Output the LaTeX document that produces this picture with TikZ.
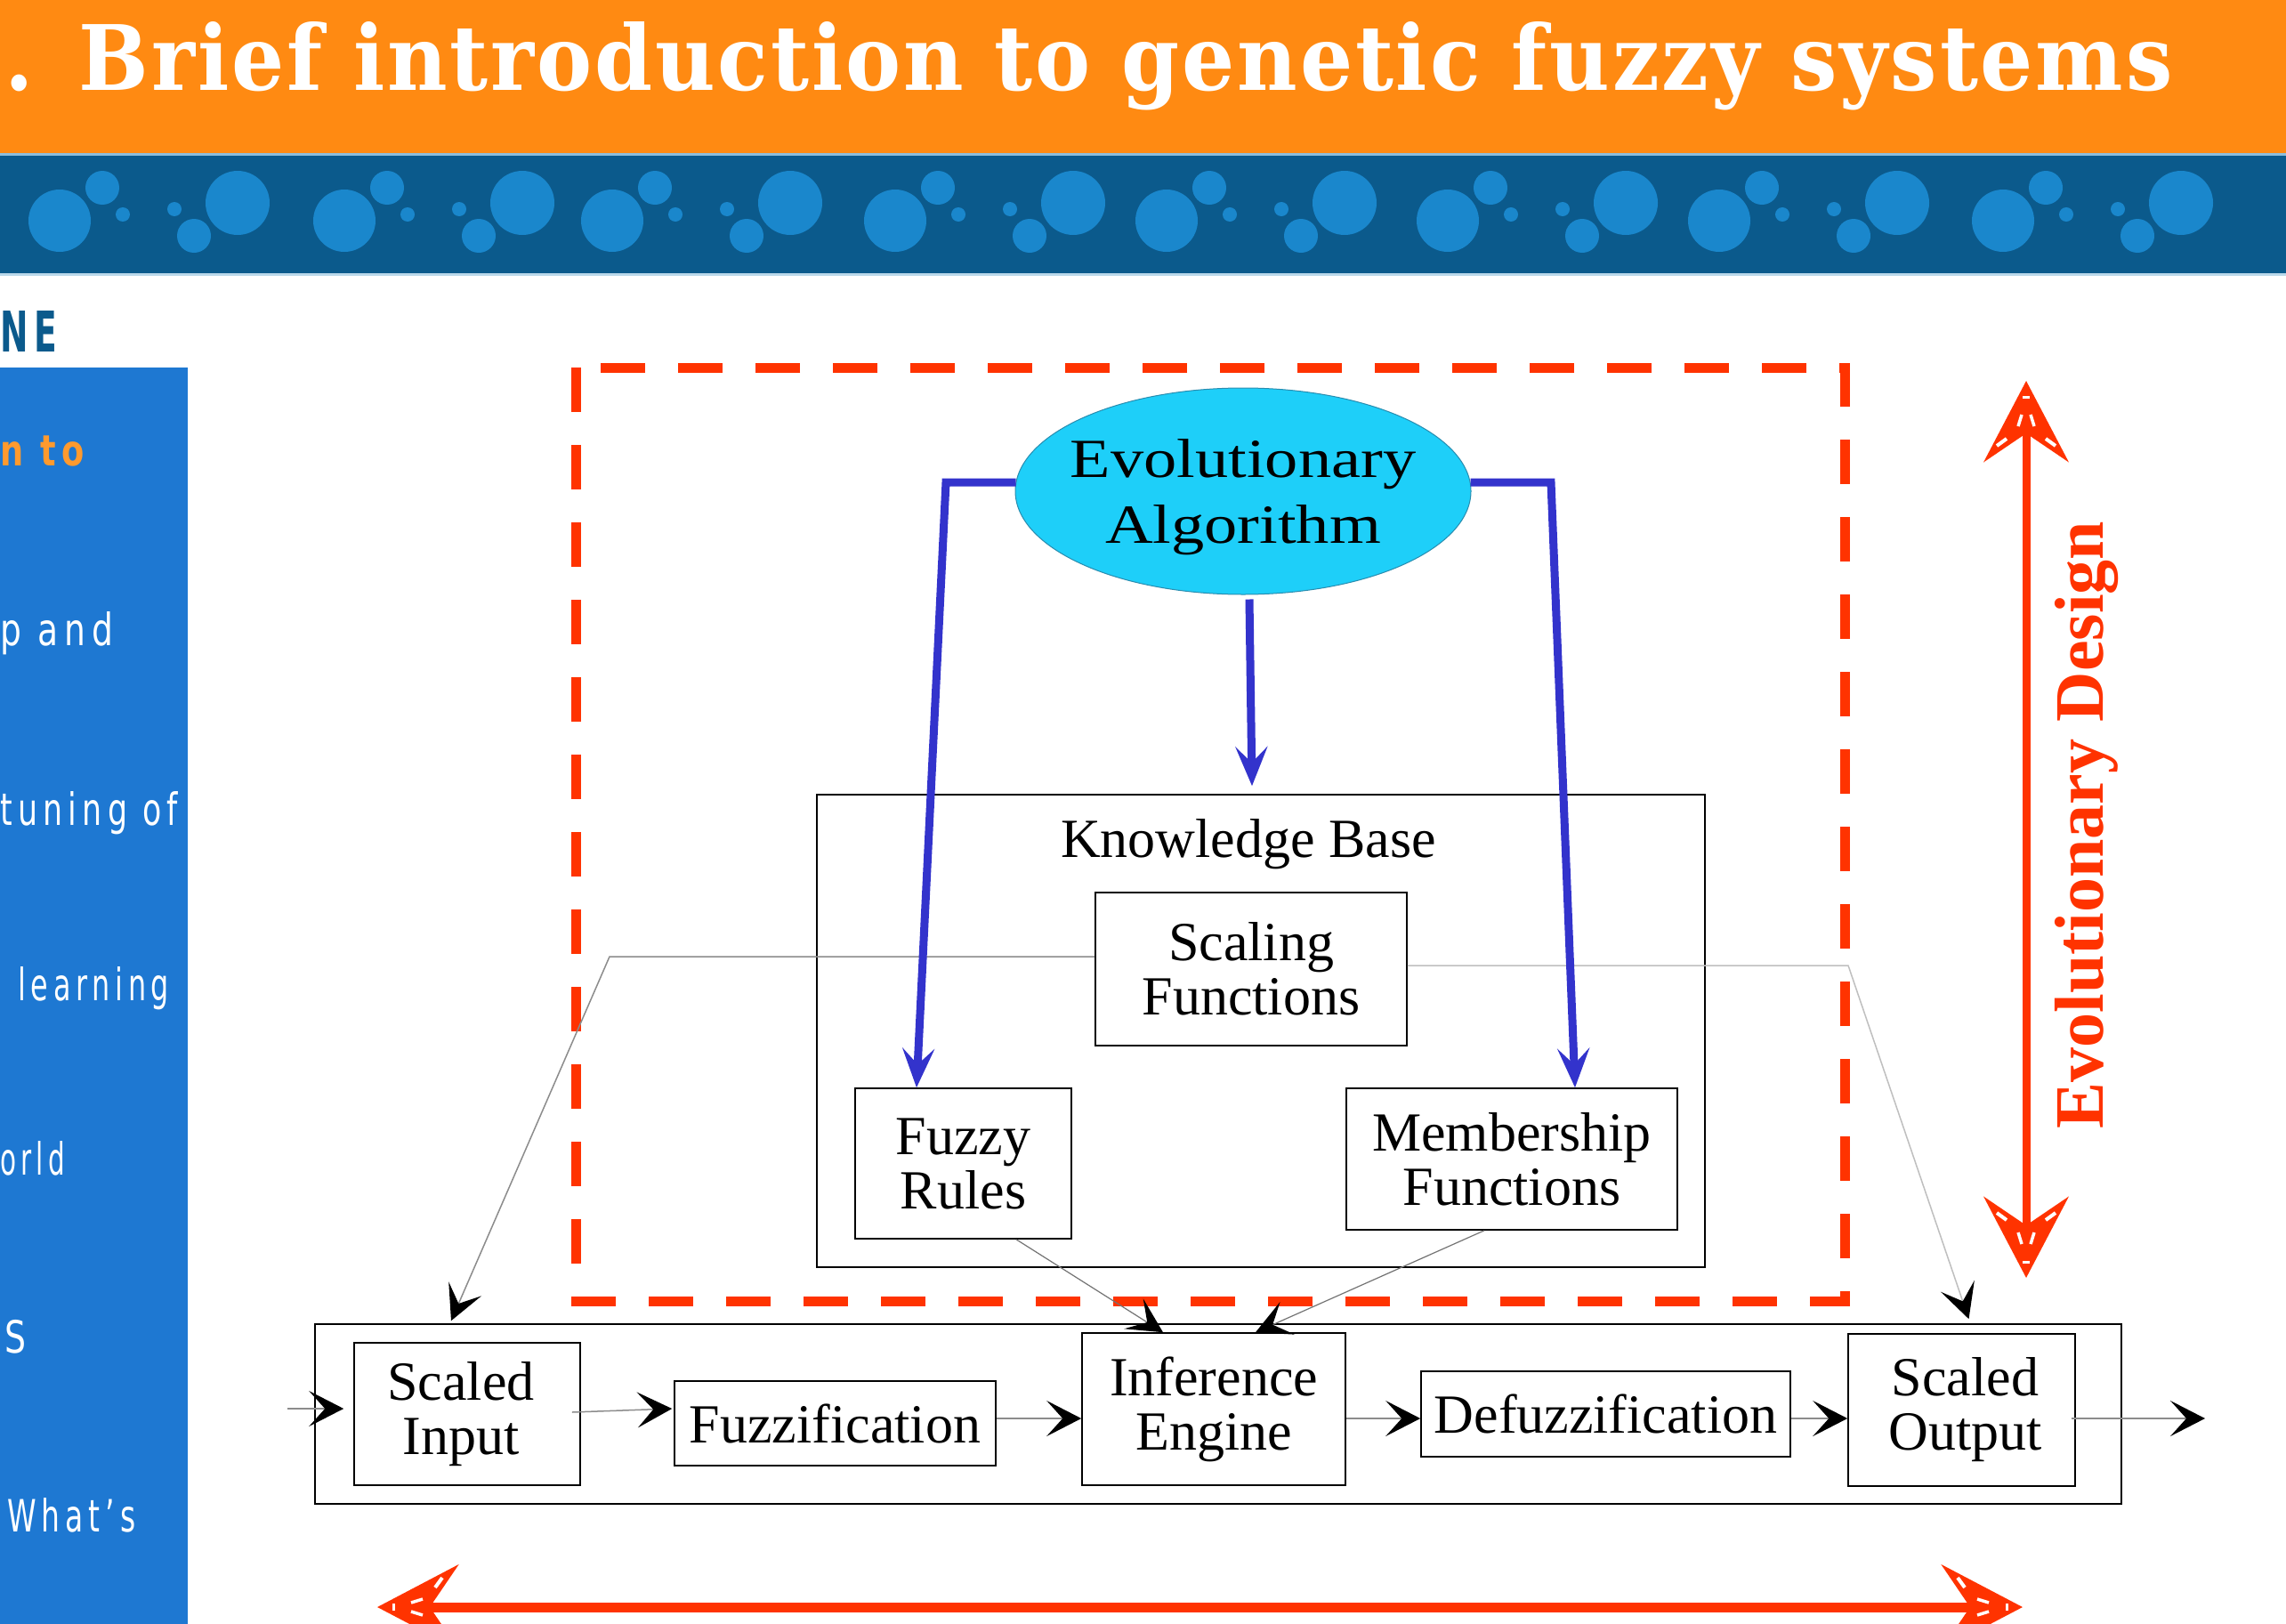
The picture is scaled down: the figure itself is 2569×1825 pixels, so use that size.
\documentclass[tikz,border=0pt]{standalone}
\usepackage{fontspec}
\usepackage{graphicx}
\setmainfont{Liberation Serif}
\newfontfamily\eafont[FakeStretch=1.2]{Liberation Serif}
\newfontfamily\titlefont[LetterSpace=3]{DejaVu Serif}
\newfontfamily\sidefont[LetterSpace=18]{DejaVu Sans}
\usetikzlibrary{arrows.meta,shapes.geometric,calc}
\definecolor{hdrorange}{RGB}{255,138,18}
\definecolor{hdrblue}{RGB}{11,90,140}
\definecolor{hdrline}{RGB}{140,190,220}
\definecolor{bubble}{RGB}{26,135,204}
\definecolor{sidebar}{RGB}{30,120,210}
\definecolor{sideorange}{RGB}{255,154,46}
\definecolor{evored}{RGB}{255,51,0}
\definecolor{eablue}{RGB}{51,51,204}
\definecolor{eafill}{RGB}{30,207,249}
\definecolor{eaedge}{RGB}{40,140,175}
\begin{document}
\begin{tikzpicture}[x=1pt,y=-1pt,
  box/.style={draw=black, line width=1.6pt, inner sep=0pt, align=center, font=\fontsize{62}{61}\selectfont},
  flow/.style={draw=black!45, line width=1.5pt, -{Stealth[black,length=39pt,width=40pt,inset=18pt]}},
  flowlight/.style={draw=black!25, line width=1.5pt, -{Stealth[black,length=39pt,width=40pt,inset=18pt]}},
  eaarrow/.style={draw=eablue, line width=9pt, line join=miter, -{Stealth[length=44pt,width=36pt,inset=18pt]}},
  redarrow/.style={draw=evored, {Stealth[length=91pt,width=95pt,inset=32pt]}-{Stealth[length=91pt,width=95pt,inset=32pt]}},
  dashbox/.style={draw=evored, line width=11pt, dash pattern=on 50pt off 37pt},
  sidetext/.style={anchor=base west, inner sep=0pt, text=white},
  redslits/.pic={
    \draw[white, line width=3pt] (-4,18) -- (4,18);
    \draw[white, line width=3.5pt] (-9,51) -- (-5,38) (9,51) -- (5,38);
    \draw[white, line width=4pt] (-33,73) -- (-22,65) (33,73) -- (22,65);
  },
]
\clip (0,0) rectangle (2569,1825);
\fill[white] (0,0) rectangle (2569,1825);
% header
\fill[hdrorange] (0,0) rectangle (2569,172);
\fill[hdrline] (0,172) rectangle (2569,175);
\fill[hdrblue] (0,175) rectangle (2569,307);
\fill[hdrline!60] (0,307) rectangle (2569,310);
\foreach \a in {67,387,688,1006,1311,1627,1932,2251}{
  \fill[bubble] (\a,248) circle[radius=35];
  \fill[bubble] (\a+48,211) circle[radius=19];
  \fill[bubble] (\a+71,241) circle[radius=8];
  \fill[bubble] (\a+129,235) circle[radius=8];
  \fill[bubble] (\a+151,265) circle[radius=19];
  \fill[bubble] (\a+200,228) circle[radius=36];
}
\node[anchor=base west, inner sep=0pt, text=white] (title) at (5,102)
  {\resizebox{2436pt}{77pt}{\titlefont\bfseries .\hspace{0.55em}Brief introduction to genetic fuzzy systems}};
% sidebar
\node[anchor=base west, inner sep=0pt, text=hdrblue] (outl) at (0,395)
  {\resizebox{64pt}{46pt}{\sidefont\bfseries NE}};
\fill[sidebar] (0,413) rectangle (211,1825);
\node[sidetext, text=sideorange] (s1) at (0,523) {\resizebox{95pt}{\height}{\sidefont\bfseries\fontsize{48}{48}\selectfont n to}};
\node[sidetext] (s2) at (0,725) {\resizebox{127pt}{\height}{\sidefont\fontsize{50}{50}\selectfont p and}};
\node[sidetext] (s3) at (0,927) {\resizebox{200pt}{\height}{\sidefont\fontsize{50}{50}\selectfont tuning of}};
\node[sidetext] (s4) at (20,1124) {\resizebox{170pt}{\height}{\sidefont\fontsize{50}{50}\selectfont learning}};
\node[sidetext] (s5) at (0,1320) {\resizebox{73pt}{\height}{\sidefont\fontsize{50}{50}\selectfont orld}};
\node[sidetext] (s6) at (5,1520) {\resizebox{24pt}{\height}{\sidefont\fontsize{50}{50}\selectfont S}};
\node[sidetext] (s7) at (8,1721) {\resizebox{144pt}{\height}{\sidefont\fontsize{50}{50}\selectfont What’s}};
% red dashed frame
\draw[dashbox] (647,413) rectangle (2073,1462);
% boxes
\node[box, minimum width=2030pt, minimum height=202pt] (OB) at (1369,1589) {};
\node[box, minimum width=998pt, minimum height=531pt] (KB) at (1417,1158.5) {};
\node[anchor=base, inner sep=0pt, font=\fontsize{62}{62}\selectfont] (KBL) at (1403,963) {Knowledge Base};
\node[box, minimum width=350pt, minimum height=172pt] (SF) at (1406,1089) {Scaling\\Functions};
\node[box, minimum width=243pt, minimum height=169pt] (FR) at (1082.5,1307.5) {Fuzzy\\Rules};
\node[box, minimum width=372pt, minimum height=159pt] (MF) at (1699,1302.5) {Membership\\Functions};
\node[box, minimum width=254pt, minimum height=160pt] (SI) at (525,1589) {\hspace*{-14pt}Scaled\\\hspace*{-14pt}Input};
\node[box, minimum width=361pt, minimum height=95pt] (FZ) at (938.5,1599.5) {Fuzzification};
\node[box, minimum width=296pt, minimum height=171pt] (IE) at (1364,1583.5) {Inference\\Engine};
\node[box, minimum width=415pt, minimum height=96pt] (DF) at (1804.5,1589) {Defuzzification};
\node[box, minimum width=255pt, minimum height=171pt] (SO) at (2204.5,1584.5) {\hspace*{8pt}Scaled\\\hspace*{8pt}Output};
\node[ellipse, fill=eafill, draw=eaedge, line width=1pt, minimum width=512pt, minimum height=232pt,
      inner sep=0pt] (EA) at (1397,552) {};
\node[inner sep=0pt, align=center, font=\eafont\fontsize{62}{74}\selectfont] (EAT) at ($(EA.center)+(0,7)$) {Evolutionary\\Algorithm};
% flow arrows
\coordinate (inS) at (323,1583);
\draw[flow, shorten >=11pt] (inS) -- (inS -| SI.west);
\draw[flow] ($(SI.east)+(-10,-2)$) -- ($(FZ.west)+(-2,-16.5)$);
\draw[flow] ($(FZ.east)+(0,-5.5)$) -- ($(IE.west)+(0,10.5)$);
\draw[flow] ($(IE.east)+(0,10.5)$) -- ($(DF.west)+(0,5)$);
\draw[flow] ($(DF.east)+(0,5)$) -- ($(SO.west)+(0,9.5)$);
\coordinate (outS) at (2478,1594);
\draw[flow] ($(SO.east)+(-5,9.5)$) -- (outS);
\coordinate (lbend) at (685,1075);
\coordinate (rbend) at (2077,1085);
\draw[flow] ($(SF.west)+(0,-14)$) -- (lbend) -- ($(SI.north)+(-18,-24)$);
\draw[flowlight] ($(SF.east)+(0,-4)$) -- (rbend) -- ($(SO.north)+(8,-16)$);
\draw[flow, draw=black!55, line width=1.2pt] ($(FR.south)+(59.5,0)$) -- ($(IE.north)+(-57,0)$);
\draw[flow, draw=black!55, line width=1.2pt] ($(MF.south)+(-31,0)$) -- ($(IE.north)+(47,0)$);
% blue arrows
\coordinate (lcorner) at (1063,542);
\coordinate (rcorner) at (1743,542);
\draw[eaarrow] ($(EA.west)+(1,-10)$) -- (lcorner) -- ($(FR.north)+(-52.5,0)$);
\draw[eaarrow] ($(EA.east)+(-1,-10)$) -- (rcorner) -- ($(MF.north)+(71,0)$);
\draw[eaarrow] ($(EA.south)+(7,5)$) -- ($(KB.north)+(-10,-9)$);
% red double arrows
\coordinate (vt) at (2277,428);
\coordinate (vb) at (2277,1436);
\draw[redarrow, line width=9pt] (vt) -- (vb);
\pic at (vt) {redslits};
\pic[rotate=180] at (vb) {redslits};
\coordinate (hl) at (424,1806);
\coordinate (hr) at (2273,1806);
\draw[redarrow, line width=11pt] (hl) -- (hr);
\pic[rotate=90] at (hl) {redslits};
\pic[rotate=-90] at (hr) {redslits};
\node[rotate=90, anchor=base, inner sep=0pt, text=evored, font=\bfseries\fontsize{78}{78}\selectfont] (ED) at (2363,927) {Evolutionary Design};
\end{tikzpicture}
\end{document}
